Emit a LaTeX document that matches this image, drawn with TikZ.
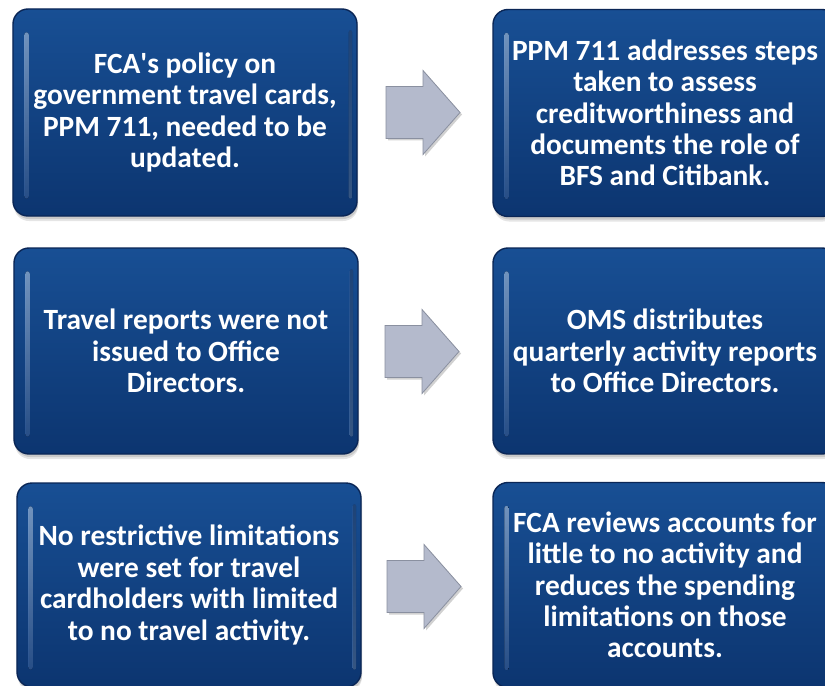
\documentclass[tikz,border=0pt]{standalone}
\usepackage{fontspec}
\setmainfont{Carlito}
\usetikzlibrary{shadows}

\definecolor{cardtop}{RGB}{24,79,148}
\definecolor{cardbot}{RGB}{12,53,112}
\definecolor{cardrim}{RGB}{10,38,86}
\definecolor{glintlight}{RGB}{150,190,240}
\definecolor{glintdark}{RGB}{52,100,170}
\definecolor{arrowfill}{RGB}{180,186,204}
\definecolor{arrowrim}{RGB}{138,144,160}

\tikzset{
  card/.style={rounded corners=15bp, draw=cardrim, line width=1.4bp,
    top color=cardtop, bottom color=cardbot,
    minimum width=344bp, inner sep=0pt,
    drop shadow={shadow xshift=1bp, shadow yshift=-5bp, opacity=.10, fill=black},
    drop shadow={shadow xshift=1bp, shadow yshift=-3bp, opacity=.12, fill=black},
    text=white, align=center,
    font=\bfseries\fontsize{29.5}{31.5}\selectfont},
  glint/.style={rounded corners=2.5bp, top color=glintlight, bottom color=glintdark, opacity=.75},
  glintright/.style={rounded corners=2bp, top color=glintdark, bottom color=glintlight!60!glintdark, opacity=.45},
  flowarrow/.style={draw=arrowrim, fill=arrowfill, line width=.8bp, line join=miter,
    drop shadow={shadow xshift=2bp, shadow yshift=-2bp, opacity=.18, fill=black}},
}

% highlight strips along the inner left and right edges of a card
\newcommand\cardglint[1]{%
  \fill[glint] ([xshift=12bp,yshift=-24bp]#1.north west) rectangle ([xshift=16.5bp,yshift=18bp]#1.south west);
  \fill[glintright] ([xshift=-9bp,yshift=-22bp]#1.north east) rectangle ([xshift=-5.5bp,yshift=18bp]#1.south east);
}

% block arrow whose tail centre sits at the given coordinate
\newcommand\blockarrow[1]{%
  \draw[flowarrow] (#1) ++(0,-26) -- ++(37,0) -- ++(0,-16) -- ++(37,42)
    -- ++(-37,42) -- ++(0,-16) -- ++(-37,0) -- cycle;
}

\begin{document}
\begin{tikzpicture}[x=1bp,y=-1bp]
  \clip (0,0) rectangle (825,686);
  \fill[white] (0,0) rectangle (825,686);

  % left column: findings
  \node[card, minimum height=207bp] (b1) at (185,112.5)
    {FCA\textquotesingle s policy on\\government travel cards,\\PPM 711, needed to be\\updated.};
  \node[card, minimum height=206bp] (b3) at (186,351)
    {Travel reports were not\\issued to Office\\Directors.};
  \node[card, minimum height=204bp] (b5) at (189,585)
    {No restrictive limitations\\were set for travel\\cardholders with limited\\to no travel activity.};

  % right column: actions taken
  \node[card, minimum height=207bp] (b2) at (665,113)
    {PPM 711 addresses steps\\taken to assess\\creditworthiness and\\documents the role of\\BFS and Citibank.};
  \node[card, minimum height=206bp] (b4) at (665,351)
    {OMS distributes\\quarterly activity reports\\to Office Directors.};
  \node[card, minimum height=205bp] (b6) at (665,585)
    {FCA reviews accounts for\\little to no activity and\\reduces the spending\\limitations on those\\accounts.};

  \cardglint{b1}\cardglint{b2}\cardglint{b3}\cardglint{b4}\cardglint{b5}\cardglint{b6}

  % block arrows between the columns
  \coordinate (a1) at (386,112.5);
  \coordinate (a2) at (385,351.5);
  \coordinate (a3) at (387,586.5);
  \blockarrow{a1}\blockarrow{a2}\blockarrow{a3}
\end{tikzpicture}
\end{document}
